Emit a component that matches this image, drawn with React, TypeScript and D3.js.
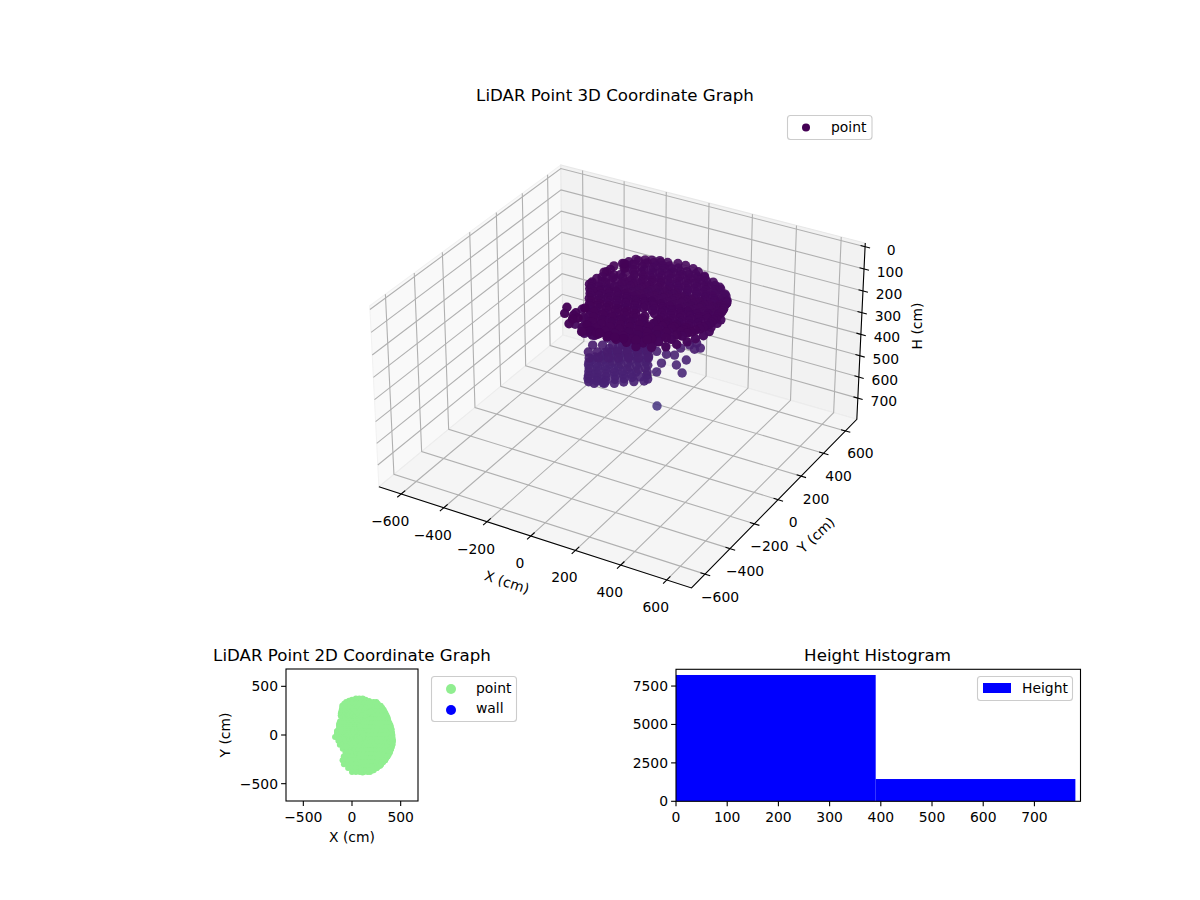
import React from 'react';
import * as d3 from 'd3';

type Point3 = [number, number, number];

const upperPoints: Point3[] = [
  [40,375,100],[75,375,100],[110,375,105],[0,362,100],[-30,352,95],[140,362,105],[175,350,110],
  [-60,340,95],[-20,340,95],[20,340,100],[60,340,100],[100,340,105],[140,340,105],[180,340,110],[220,340,120],[250,340,135],
  [-100,300,90],[-60,300,90],[-20,300,95],[20,300,95],[60,300,100],[100,300,100],[140,300,105],[180,300,105],[220,300,115],[260,300,125],[295,300,135],
  [-105,260,90],[-60,260,90],[-20,260,95],[20,260,95],[60,260,95],[100,260,100],[140,260,100],[180,260,100],[220,260,105],[260,260,115],[300,260,125],[325,260,135],
  [-115,220,90],[-80,220,90],[-40,220,90],[0,220,95],[40,220,95],[80,220,95],[120,220,100],[160,220,100],[200,220,100],[240,220,105],[280,220,110],[320,220,120],[345,220,125],
  [-90,180,85],[-50,180,85],[-10,180,90],[30,180,90],[70,180,90],[110,180,95],[150,180,95],[190,180,95],[230,180,100],[270,180,100],[310,180,105],[350,180,105],[365,180,100],
  [-120,140,85],[-80,140,85],[-40,140,85],[0,140,85],[40,140,90],[80,140,90],[120,140,90],[160,140,90],[200,140,95],[240,140,95],[280,140,95],[320,140,95],[360,140,90],[375,140,90],
  [-130,100,80],[-90,100,80],[-50,100,80],[-10,100,80],[30,100,85],[70,100,85],[110,100,85],[150,100,85],[190,100,85],[230,100,85],[270,100,85],[310,100,85],[350,100,85],[395,100,80],
  [-128,60,80],[-90,60,80],[-50,60,80],[-10,60,80],[30,60,80],[70,60,80],[110,60,80],[150,60,80],[190,60,80],[230,60,80],[270,60,80],[310,60,80],[350,60,75],[390,60,75],[405,60,75],
  [-150,20,75],[-110,20,75],[-70,20,75],[-30,20,75],[10,20,75],[50,20,75],[90,20,75],[130,20,75],[170,20,75],[210,20,75],[250,20,75],[290,20,75],[330,20,75],[370,20,70],[410,20,70],
  [-130,-20,70],[-90,-20,70],[-50,-20,70],[-10,-20,70],[30,-20,70],[70,-20,70],[110,-20,70],[150,-20,70],[190,-20,70],[230,-20,70],[270,-20,70],[310,-20,70],[350,-20,70],[390,-20,65],[415,-20,65],
  [-100,-60,62],[-60,-60,62],[-20,-60,62],[20,-60,62],[60,-60,62],[100,-60,62],[140,-60,62],[180,-60,62],[220,-60,62],[260,-60,62],[300,-60,62],[340,-60,62],[380,-60,62],[419,-60,62],
  [-80,-100,58],[-40,-100,58],[0,-100,58],[40,-100,58],[80,-100,58],[120,-100,58],[160,-100,120],[200,-100,58],[240,-100,58],[280,-100,58],[320,-100,58],[360,-100,58],[400,-100,58],[415,-100,58],
  [-60,-140,55],[-20,-140,55],[20,-140,55],[60,-140,55],[100,-140,55],[140,-140,55],[180,-140,55],[200,-140,110],[240,-140,55],[280,-140,55],[320,-140,55],[360,-140,55],[402,-140,55],
  [-40,-180,52],[0,-180,52],[40,-180,52],[80,-180,52],[120,-180,52],[160,-180,52],[200,-180,52],[240,-180,52],[280,-180,52],[320,-180,52],[360,-180,52],[388,-180,52],
  [0,-220,48],[40,-220,48],[80,-220,48],[120,-220,48],[160,-220,48],[200,-220,48],[240,-220,48],[280,-220,48],[320,-220,48],[365,-220,48],
  [20,-260,46],[60,-260,46],[100,-260,46],[140,-260,46],[180,-260,46],[220,-260,46],[260,-260,46],[300,-260,46],[340,-260,46],
  [40,-300,42],[80,-300,42],[120,-300,42],[160,-300,42],[200,-300,42],[240,-300,42],[280,-300,42],[300,-300,42],[290,-315,42],
  [80,-340,40],[120,-340,40],[160,-340,40],[200,-340,40],[240,-340,40],[255,-340,40],[215,-365,35],
  [80,-380,30],[120,-380,30],[160,-380,30],[185,-380,30],[109,-385,30],
];

// second sweep over the same area, between the rows of the first
const upperFill: Point3[] = [
  [-80,320,90],[-40,320,92],[0,320,95],[40,320,98],[80,320,100],[120,320,102],[160,320,105],[200,320,110],[240,320,120],[265,320,130],
  [-100,280,75],[-60,280,85],[-20,280,92],[20,280,95],[60,280,98],[100,280,100],[140,280,102],[180,280,105],[220,280,110],[260,280,118],[300,280,128],[310,280,130],
  [-110,240,70],[-80,240,75],[-40,240,88],[0,240,92],[40,240,95],[80,240,95],[120,240,98],[160,240,100],[200,240,102],[240,240,105],[280,240,112],[320,240,122],[335,240,128],
  [-100,200,62],[-60,200,75],[-20,200,88],[20,200,92],[60,200,92],[100,200,95],[140,200,95],[180,200,98],[220,200,100],[260,200,102],[300,200,108],[340,200,112],[355,200,108],
  [-85,160,55],[-40,160,78],[0,160,88],[40,160,90],[80,160,90],[120,160,92],[160,160,92],[200,160,95],[240,160,95],[280,160,98],[320,160,100],[360,160,98],[370,160,95],
  [-125,120,53],[-80,120,65],[-40,120,82],[0,120,85],[40,120,85],[80,120,88],[120,120,88],[160,120,88],[200,120,90],[240,120,90],[280,120,90],[320,120,90],[360,120,88],[385,120,85],
  [-130,80,48],[-90,80,62],[-50,80,78],[-10,80,80],[30,80,82],[70,80,82],[110,80,82],[150,80,82],[190,80,82],[230,80,82],[270,80,82],[310,80,82],[350,80,80],[400,80,78],
  [-140,40,60],[-100,40,68],[-60,40,75],[-20,40,78],[20,40,78],[60,40,78],[100,40,78],[140,40,78],[180,40,78],[220,40,78],[260,40,78],[300,40,78],[340,40,78],[380,40,75],[405,40,72],
  [-150,0,70],[-110,0,70],[-70,0,70],[-30,0,70],[10,0,70],[50,0,70],[90,0,70],[130,0,70],[170,0,70],[210,0,70],[250,0,70],[290,0,70],[330,0,70],[370,0,68],[415,0,68],
  [-125,-40,65],[-80,-40,65],[-40,-40,65],[0,-40,65],[40,-40,65],[80,-40,65],[120,-40,65],[160,-40,65],[200,-40,65],[240,-40,65],[280,-40,65],[320,-40,65],[360,-40,65],[418,-40,65],
  [-100,-80,60],[-60,-80,60],[-20,-80,60],[20,-80,60],[60,-80,60],[100,-80,60],[140,-80,60],[180,-80,60],[220,-80,60],[260,-80,60],[300,-80,60],[340,-80,60],[380,-80,60],[417,-80,60],
  [-80,-120,57],[-40,-120,57],[0,-120,57],[40,-120,57],[80,-120,57],[120,-120,57],[160,-120,115],[200,-120,115],[240,-120,57],[280,-120,57],[320,-120,57],[360,-120,57],[410,-120,57],
  [-55,-160,55],[-20,-160,55],[20,-160,55],[60,-160,55],[100,-160,55],[140,-160,55],[180,-160,55],[200,-160,115],[240,-160,55],[280,-160,55],[320,-160,55],[360,-160,55],[395,-160,55],
  [-30,-200,58],[0,-200,58],[40,-200,58],[80,-200,58],[120,-200,58],[160,-200,58],[200,-200,58],[240,-200,58],[280,-200,58],[320,-200,58],[378,-200,58],
  [-10,-240,60],[30,-240,60],[70,-240,60],[110,-240,60],[150,-240,60],[190,-240,60],[230,-240,60],[270,-240,60],[310,-240,60],[352,-240,60],
  [15,-280,60],[55,-280,60],[95,-280,60],[135,-280,60],[175,-280,60],[215,-280,60],[255,-280,60],[295,-280,60],[320,-280,60],
  [40,-320,58],[80,-320,58],[120,-320,58],[160,-320,58],[200,-320,58],[240,-320,58],[275,-320,58],
  [60,-360,50],[100,-360,50],[140,-360,50],[180,-360,50],[225,-360,50],
];

// rim of the mass: lower right edge, back left arc, left wall going down
const rimPoints: Point3[] = [
  [419,-60,95],[415,-100,95],[402,-140,92],[388,-180,90],[365,-220,88],[340,-260,86],[300,-300,80],[255,-340,70],
  [405,-20,100],[410,20,100],[405,60,105],
  [-85,160,35],[-115,200,60],[-120,140,45],[-130,100,55],[-128,60,60],[-150,20,70],[-130,-20,90],
  [-130,-20,170],[-100,-60,160],[-100,-60,223],[-80,-100,220],[-60,-140,200],[-20,-180,177],[0,-220,150],[20,-260,120],[40,-300,100],
];

// the loose returns hanging off the left of the main mass
const leftStrays: Point3[] = [
  [-174,-20,264],[-140,-60,195],[-125,-100,128],[-95,-140,204],[-67,-180,181],
  [-85,-220,126],[-45,-220,85],[-97,-260,35],[-57,-260,48],[-17,-260,17],
  [-83,-300,39],[-43,-300,35],[-3,-300,76],[-40,-340,53],[0,-340,17],[40,-340,35],
  [0,-380,2],[40,-380,46],
];

// the loose returns below the right side and under the lower cluster
const lowerStrays: Point3[] = [
  [63,165,395],[97,184,408],[125,200,412],[80,174,449],[132,204,458],[166,224,435],
  [63,165,490],[152,216,495],[146,212,380],[177,230,366],[201,244,357],[214,252,380],[194,240,385],
  [-154,39,499],[-123,57,541],[-126,55,522],[24,240,700],
];

// top of the lower cluster, running up under the main mass
const lowerClusterTop: Point3[] = [
  [-130,105,360],[-95,125,360],[-61,145,360],[-26,165,360],[8,185,360],
  [-153,27,360],[-119,47,360],[-84,67,360],[-50,87,360],[-16,107,360],[19,127,360],[53,147,360],
  [-140,-29,360],[-109,-11,360],[-75,9,360],[-40,29,360],[-6,49,360],[29,69,360],[63,89,360],
  [-113,-68,360],[-82,-50,360],[-47,-30,360],[-13,-10,360],[22,10,360],[56,30,360],[90,50,360],
];

// the lower, slightly lighter cluster
const lowerCluster: Point3[] = [
  [-100,220,400],[-60,220,400],[-20,220,400],
  [-115,200,405],[-80,200,405],[-40,200,405],[0,200,405],
  [-90,180,405],[-50,180,405],[-10,180,405],[20,180,405],
  [-80,160,405],[-40,160,405],[0,160,405],[20,160,405],
  [-100,140,410],[-60,140,410],[-20,140,410],[20,140,410],[40,140,410],
  [-130,120,415],[-90,120,415],[-50,120,415],[-10,120,415],[40,120,415],
  [-110,100,415],[-70,100,415],[-30,100,415],[10,100,415],[50,100,415],
  [-130,80,415],[-90,80,415],[-50,80,415],[-10,80,415],[30,80,415],[70,80,415],
  [-130,60,418],[-90,60,418],[-50,60,418],[-10,60,418],[30,60,418],[70,60,418],
  [-150,40,420],[-110,40,420],[-70,40,420],[-30,40,420],[10,40,420],[50,40,420],[90,40,420],
  [-150,20,422],[-110,20,422],[-70,20,422],[-30,20,422],[10,20,422],[50,20,422],[100,20,422],
  [-155,0,425],[-120,0,425],[-80,0,425],[-40,0,425],[0,0,425],[40,0,425],[80,0,425],[115,0,425],
  [-145,-20,425],[-105,-20,425],[-65,-20,425],[-25,-20,425],[15,-20,425],[55,-20,425],[110,-20,425],
  [-130,-40,428],[-90,-40,428],[-50,-40,428],[-10,-40,428],[30,-40,428],[75,-40,428],
  [-120,-60,430],[-80,-60,430],[-40,-60,430],[0,-60,430],[40,-60,430],
  [-110,-80,435],[-70,-80,435],[-30,-80,435],[9,-80,435],
  [-100,-100,435],[-60,-100,435],[-25,-100,435],
  [-85,-120,435],[-60,-120,435],
];

const allPoints: Point3[] = [...upperPoints, ...upperFill, ...rimPoints, ...leftStrays, ...lowerStrays, ...lowerClusterTop, ...lowerCluster];
const wallPoints: Point3[] = [];

const xyTicks3d = [-600, -400, -200, 0, 200, 400, 600];
const heightTicks3d = [0, 100, 200, 300, 400, 500, 600, 700];
const xyTicks2d = [-500, 0, 500];
const histXTicks = [0, 100, 200, 300, 400, 500, 600, 700];
const histYTicks = [0, 2500, 5000, 7500];
const histBinEdges = [0, 390, 780];
const histCounts = [8220, 1450];

const FONT = '"DejaVu Sans", sans-serif';
const fmt = d3.format('d');

// matplotlib-style 3D projection, elev 30 azim -60, equal data aspect
const XY_LIM: [number, number] = [-678, 678];
const H_LIM: [number, number] = [785, 0];
const PAD_XY = 1356 / 48;
const PAD_H = 785 / 48;
const norm = Math.hypot(1356, 1356, 785);
const boxXY = (1356 * 1.8294640721620434) / norm;
const boxH = (785 * 1.8294640721620434) / norm;
const bx = d3.scaleLinear().domain(XY_LIM).range([-boxXY / 2, boxXY / 2]);
const bz = d3.scaleLinear().domain(H_LIM).range([-boxH / 2, boxH / 2]);
const U = [0.866025, 0.5, 0];
const V = [-0.25, 0.433013, 0.866025];
const W = [0.433013, -0.75, 0.5];
const SCALE = 2855;
const CX = 622.5;
const CY = 364.7;

function project(x: number, y: number, h: number) {
  const p = [bx(x), bx(y), bz(h)];
  const dot = (a: number[]) => a[0] * p[0] + a[1] * p[1] + a[2] * p[2];
  const dist = 10 - dot(W);
  return { px: CX + (SCALE * dot(U)) / dist, py: CY - (SCALE * dot(V)) / dist, dist };
}

const LO = XY_LIM[0] - PAD_XY;
const HI = XY_LIM[1] + PAD_XY;
const H_BOTTOM = H_LIM[0] + PAD_H;
const H_TOP = H_LIM[1] - PAD_H;

const pathOf = (pts: Point3[], close = false) => {
  const line = d3.line<Point3>()
    .x(d => project(d[0], d[1], d[2]).px)
    .y(d => project(d[0], d[1], d[2]).py);
  return line(pts) + (close ? 'Z' : '');
};

const colorOf = d3.scaleSequential(d3.interpolateViridis).domain([0, 4700]);

const sorted3d = allPoints
  .map(d => ({ d, ...project(d[0], d[1], d[2]) }))
  .sort((a, b) => b.dist - a.dist);
const alphaOf = d3.scaleLinear()
  .domain(d3.extent(sorted3d, d => d.dist) as [number, number])
  .range([1, 0.86]);

const Scatter3D = () => {
  const gridLines: string[] = [];
  xyTicks3d.forEach(t => {
    // x ticks: floor + back pane, y ticks: floor + left pane
    gridLines.push(pathOf([[t, LO, H_BOTTOM], [t, HI, H_BOTTOM], [t, HI, H_TOP]]));
    gridLines.push(pathOf([[HI, t, H_BOTTOM], [LO, t, H_BOTTOM], [LO, t, H_TOP]]));
  });
  heightTicks3d.forEach(t => {
    gridLines.push(pathOf([[LO, LO, t], [LO, HI, t], [HI, HI, t]]));
  });

  return (
    <g>
      <path d={pathOf([[LO, LO, H_BOTTOM], [LO, HI, H_BOTTOM], [LO, HI, H_TOP], [LO, LO, H_TOP]], true)} fill="#f9f9f9" stroke="#f2f2f2" strokeWidth={1.1} />
      <path d={pathOf([[LO, HI, H_BOTTOM], [HI, HI, H_BOTTOM], [HI, HI, H_TOP], [LO, HI, H_TOP]], true)} fill="#f2f2f2" stroke="#e8e8e8" strokeWidth={1.1} />
      <path d={pathOf([[LO, LO, H_BOTTOM], [HI, LO, H_BOTTOM], [HI, HI, H_BOTTOM], [LO, HI, H_BOTTOM]], true)} fill="#f5f5f5" stroke="#ececec" strokeWidth={1.1} />
      {gridLines.map((d, i) => <path key={i} d={d} fill="none" stroke="#b0b0b0" strokeWidth={1.1} />)}

      {/* axis lines */}
      <path d={pathOf([[LO, LO, H_BOTTOM], [HI, LO, H_BOTTOM], [HI, HI, H_BOTTOM], [HI, HI, H_TOP]])} fill="none" stroke="#000" strokeWidth={1.1} />

      {xyTicks3d.map(t => {
        const a = project(t, LO, H_BOTTOM);
        return (
          <g key={'x' + t}>
            <path d={pathOf([[t, LO - 28, H_BOTTOM], [t, LO + 28, H_BOTTOM]])} stroke="#000" strokeWidth={1.1} />
            <text x={a.px - 11} y={a.py + 27} textAnchor="middle" dominantBaseline="central" fontSize={13.9} fontFamily={FONT}>{fmt(t)}</text>
          </g>
        );
      })}
      {xyTicks3d.map(t => {
        const a = project(HI, t, H_BOTTOM);
        return (
          <g key={'y' + t}>
            <path d={pathOf([[HI - 20, t, H_BOTTOM], [HI + 22, t, H_BOTTOM]])} stroke="#000" strokeWidth={1.1} />
            <text x={a.px + 15} y={a.py + 22.5} textAnchor="middle" dominantBaseline="central" fontSize={13.9} fontFamily={FONT}>{fmt(t)}</text>
          </g>
        );
      })}
      {heightTicks3d.map(t => {
        const a = project(HI, HI, t);
        return (
          <g key={'h' + t}>
            <path d={pathOf([[HI - 20, HI, t], [HI + 22, HI, t]])} stroke="#000" strokeWidth={1.1} />
            <text x={a.px + 26} y={a.py + 3} textAnchor="middle" dominantBaseline="central" fontSize={13.9} fontFamily={FONT}>{fmt(t)}</text>
          </g>
        );
      })}

      {sorted3d.map((p, i) => (
        <circle key={i} cx={p.px} cy={p.py} r={4.7} fill={colorOf(p.d[2])} fillOpacity={alphaOf(p.dist)} />
      ))}

      <text x={507} y={582} transform="rotate(18 507 582)" textAnchor="middle" dominantBaseline="central" fontSize={13.9} fontFamily={FONT}>X (cm)</text>
      <text x={816} y={535} transform="rotate(-43 816 535)" textAnchor="middle" dominantBaseline="central" fontSize={13.9} fontFamily={FONT}>Y (cm)</text>
      <text x={917} y={326} transform="rotate(-90 917 326)" textAnchor="middle" dominantBaseline="central" fontSize={13.9} fontFamily={FONT}>H (cm)</text>

      <text x={615} y={95} textAnchor="middle" dominantBaseline="central" fontSize={16.67} fontFamily={FONT}>LiDAR Point 3D Coordinate Graph</text>

      <rect x={787.5} y={115.5} width={84.5} height={24} rx={3} fill="#fff" fillOpacity={0.8} stroke="#ccc" strokeWidth={1.1} />
      <circle cx={806} cy={127.5} r={4} fill={colorOf(0)} />
      <text x={831} y={127} dominantBaseline="central" fontSize={13.9} fontFamily={FONT}>point</text>
    </g>
  );
};

const Scatter2D = () => {
  const left = 286, right = 418, top = 669, bottom = 801;
  const x = d3.scaleLinear().domain(XY_LIM).range([left, right]);
  const y = d3.scaleLinear().domain(XY_LIM).range([bottom, top]);
  return (
    <g>
      {allPoints.map((d, i) => <circle key={i} cx={x(d[0])} cy={y(d[1])} r={3} fill="#90ee90" />)}
      {wallPoints.map((d, i) => <circle key={i} cx={x(d[0])} cy={y(d[1])} r={3} fill="#0000ff" />)}
      <rect x={left} y={top} width={right - left} height={bottom - top} fill="none" stroke="#000" strokeWidth={1.1} />
      {xyTicks2d.map(t => (
        <g key={t}>
          <line x1={x(t)} x2={x(t)} y1={bottom} y2={bottom + 4.9} stroke="#000" strokeWidth={1.1} />
          <text x={x(t)} y={bottom + 16} textAnchor="middle" dominantBaseline="central" fontSize={13.9} fontFamily={FONT}>{fmt(t)}</text>
          <line x1={left} x2={left - 4.9} y1={y(t)} y2={y(t)} stroke="#000" strokeWidth={1.1} />
          <text x={left - 8} y={y(t)} textAnchor="end" dominantBaseline="central" fontSize={13.9} fontFamily={FONT}>{fmt(t)}</text>
        </g>
      ))}
      <text x={352} y={655} textAnchor="middle" dominantBaseline="central" fontSize={16.67} fontFamily={FONT}>LiDAR Point 2D Coordinate Graph</text>
      <text x={352} y={837} textAnchor="middle" dominantBaseline="central" fontSize={13.9} fontFamily={FONT}>X (cm)</text>
      <text x={225} y={735} transform="rotate(-90 225 735)" textAnchor="middle" dominantBaseline="central" fontSize={13.9} fontFamily={FONT}>Y (cm)</text>

      <rect x={431.5} y={676.5} width={85} height={45} rx={3} fill="#fff" fillOpacity={0.8} stroke="#ccc" strokeWidth={1.1} />
      <circle cx={451} cy={689} r={5} fill="#90ee90" />
      <circle cx={451} cy={710} r={5} fill="#0000ff" />
      <text x={476} y={688} dominantBaseline="central" fontSize={13.9} fontFamily={FONT}>point</text>
      <text x={476} y={708} dominantBaseline="central" fontSize={13.9} fontFamily={FONT}>wall</text>
    </g>
  );
};

const Histogram = () => {
  const left = 676, right = 1080.5, top = 669.3, bottom = 801.3;
  const x = d3.scaleLinear().domain([0, 790]).range([left, right]);
  const y = d3.scaleLinear().domain([0, 8590]).range([bottom, top]);
  return (
    <g>
      {histCounts.map((c, i) => (
        <rect key={i} x={x(histBinEdges[i])} y={y(c)} width={x(histBinEdges[i + 1]) - x(histBinEdges[i])} height={bottom - y(c)} fill="#0000ff" />
      ))}
      <rect x={left} y={top} width={right - left} height={bottom - top} fill="none" stroke="#000" strokeWidth={1.1} />
      {histXTicks.map(t => (
        <g key={t}>
          <line x1={x(t)} x2={x(t)} y1={bottom} y2={bottom + 4.9} stroke="#000" strokeWidth={1.1} />
          <text x={x(t)} y={bottom + 16} textAnchor="middle" dominantBaseline="central" fontSize={13.9} fontFamily={FONT}>{t}</text>
        </g>
      ))}
      {histYTicks.map(t => (
        <g key={t}>
          <line x1={left} x2={left - 4.9} y1={y(t)} y2={y(t)} stroke="#000" strokeWidth={1.1} />
          <text x={left - 8} y={y(t)} textAnchor="end" dominantBaseline="central" fontSize={13.9} fontFamily={FONT}>{t}</text>
        </g>
      ))}
      <text x={877.5} y={655} textAnchor="middle" dominantBaseline="central" fontSize={16.67} fontFamily={FONT}>Height Histogram</text>

      <rect x={977.5} y={676.5} width={95} height={24} rx={3} fill="#fff" fillOpacity={0.8} stroke="#ccc" strokeWidth={1.1} />
      <rect x={983} y={683} width={28} height={10} fill="#0000ff" />
      <text x={1022} y={688} dominantBaseline="central" fontSize={13.9} fontFamily={FONT}>Height</text>
    </g>
  );
};

export default function App() {
  return (
    <svg width={1200} height={900} style={{ position: 'absolute', left: 0, top: 0, display: 'block', background: '#fff' }}>
      <Scatter3D />
      <Scatter2D />
      <Histogram />
    </svg>
  );
}
